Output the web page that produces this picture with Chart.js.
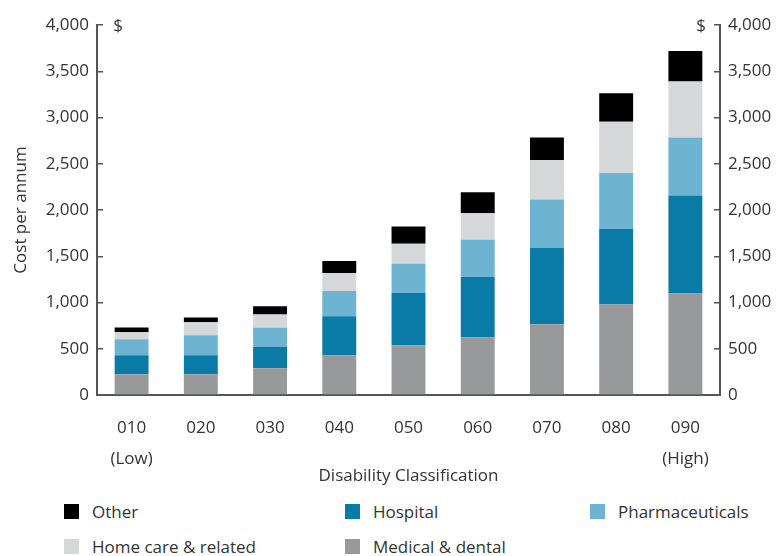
<!DOCTYPE html>
<html lang="en">
<head>
    <meta charset="UTF-8">
    <title>Cost per annum by Disability Classification</title>
    <script src="https://cdn.jsdelivr.net/npm/chart.js"></script>
    <style>
        body {
            margin: 0;
            font-family: "Open Sans", sans-serif;
            background: #fff;
        }
        #wrap {
            position: relative;
            width: 777px;
            height: 556px;
        }
        #chartBox {
            position: absolute;
            left: 0;
            top: 0;
            width: 777px;
            height: 490px;
        }
        #legend {
            position: absolute;
            left: 64px;
            top: 494px;
            display: grid;
            grid-template-columns: 281px 245px auto;
            grid-auto-rows: 35px;
            font-size: 17px;
            color: #333;
        }
        .item {
            display: flex;
            align-items: center;
        }
        .box {
            width: 15px;
            height: 15px;
            margin-right: 13px;
        }
    </style>
</head>
<body>
    <div id="wrap">
        <div id="chartBox"><canvas id="barChart"></canvas></div>
        <div id="legend"></div>
    </div>

    <script>
        // categories and tick labels
        const categories = [['010', '(Low)'], '020', '030', '040', '050', '060', '070', '080', ['090', '(High)']];

        // cost per annum ($), stacked bottom to top
        const medical = [223, 223, 288, 431, 539, 622, 765, 978, 1096];
        const hospital = [208, 208, 233, 421, 564, 653, 827, 819, 1060];
        const pharma = [173, 216, 205, 273, 317, 403, 521, 604, 629];
        const homeCare = [75, 140, 144, 194, 215, 287, 428, 553, 603];
        const other = [51, 51, 89, 129, 187, 227, 244, 309, 331];

        const seriesNames = ['Medical & dental', 'Hospital', 'Pharmaceuticals', 'Home care & related', 'Other'];
        const seriesColors = ['#98999b', '#0a7aa6', '#6db3d2', '#d6d7d9', '#000000'];
        const legendOrder = [4, 1, 2, 3, 0];

        const yTicks = [0, 500, 1000, 1500, 2000, 2500, 3000, 3500, 4000];

        const txt = '#333';
        const axisCol = '#555';
        const font = { family: '"Open Sans", sans-serif', size: 17 };

        const datasets = [medical, hospital, pharma, homeCare, other].map((d, i) => ({
            label: seriesNames[i],
            data: d,
            backgroundColor: seriesColors[i],
            borderWidth: 0,
            barPercentage: 0.49,
            categoryPercentage: 1.0,
            stack: 's'
        }));

        // draws the "$" unit marks beside the top ticks
        const dollarPlugin = {
            id: 'dollar',
            afterDraw(chart) {
                const ctx = chart.ctx;
                const y = chart.scales.y.getPixelForValue(4000);
                ctx.save();
                ctx.font = '17px "Open Sans", sans-serif';
                ctx.fillStyle = txt;
                ctx.textAlign = 'center';
                ctx.textBaseline = 'middle';
                ctx.fillText('$', chart.chartArea.left + 21, y + 1);
                ctx.fillText('$', chart.chartArea.right - 19, y + 1);
                ctx.restore();
            }
        };

        const yAxis = (pos) => ({
            type: 'linear',
            position: pos,
            stacked: pos === 'left',
            min: 0,
            max: 4000,
            afterBuildTicks: s => { s.ticks = yTicks.map(v => ({ value: v })); },
            afterFit: s => { s.width = pos === 'left' ? 97 : 57; },
            grid: {
                drawOnChartArea: false,
                drawTicks: true,
                tickLength: -6,
                color: axisCol,
                lineWidth: 1.5
            },
            border: { display: true, color: axisCol, width: 2 },
            ticks: {
                color: txt,
                font: font,
                padding: 14,
                callback: v => v.toLocaleString('en-US')
            },
            title: pos === 'left' ? {
                display: true,
                text: 'Cost per annum',
                color: txt,
                font: font,
                padding: { top: 11, bottom: 0 }
            } : { display: false }
        });

        new Chart(document.getElementById('barChart'), {
            type: 'bar',
            data: { labels: categories, datasets: datasets },
            options: {
                responsive: true,
                maintainAspectRatio: false,
                animation: false,
                layout: { padding: { top: 25, bottom: 4, left: 0, right: 0 } },
                plugins: {
                    legend: { display: false },
                    tooltip: { enabled: false }
                },
                scales: {
                    x: {
                        stacked: true,
                        afterFit: s => { s.height = 91; },
                        grid: { display: false, drawTicks: false },
                        border: { display: true, color: axisCol, width: 2 },
                        ticks: {
                            color: txt,
                            font: { family: font.family, size: 17, lineHeight: '31px' },
                            padding: 18,
                            maxRotation: 0
                        },
                        title: {
                            display: true,
                            text: 'Disability Classification',
                            color: txt,
                            font: font,
                            padding: { top: 0, bottom: 0 }
                        }
                    },
                    y: yAxis('left'),
                    y2: yAxis('right')
                }
            },
            plugins: [dollarPlugin]
        });

        // two-row legend in the original order
        const legend = document.getElementById('legend');
        legendOrder.forEach(i => {
            const item = document.createElement('div');
            item.className = 'item';
            item.innerHTML = `<span class="box" style="background:${seriesColors[i]}"></span>${seriesNames[i].replace('&', '&amp;')}`;
            legend.appendChild(item);
        });
    </script>
</body>
</html>
